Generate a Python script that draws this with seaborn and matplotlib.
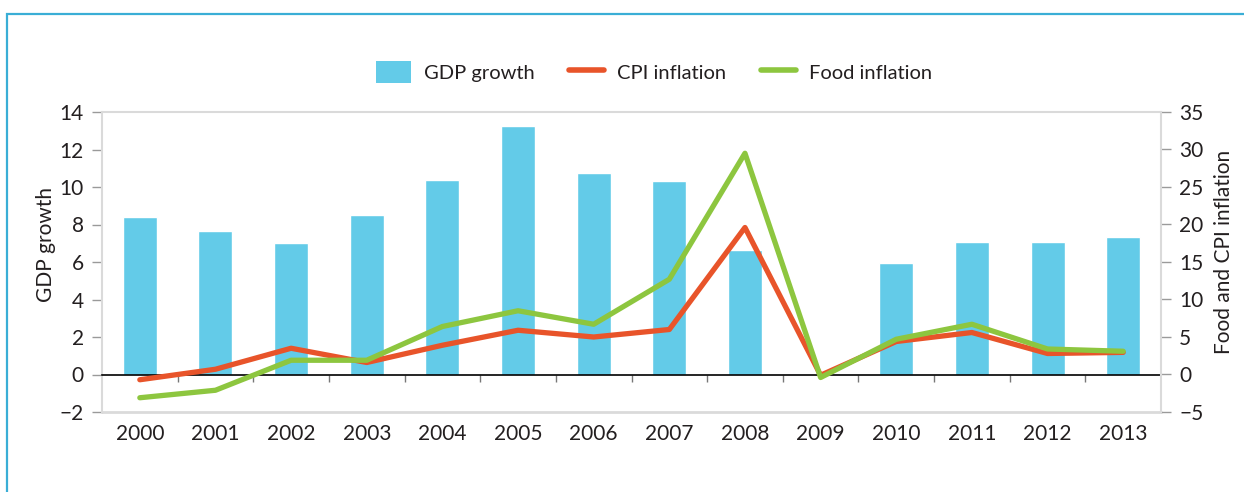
import numpy as np
import seaborn as sns
import matplotlib.pyplot as plt
from matplotlib.lines import Line2D
from matplotlib.patches import Patch, Rectangle

# data
years = ["2000", "2001", "2002", "2003", "2004", "2005", "2006",
         "2007", "2008", "2009", "2010", "2011", "2012", "2013"]
gdp_growth = [8.4, 7.65, 7.0, 8.5, 10.4, 13.25, 10.75, 10.3, 6.65, 0.0, 5.95, 7.07, 7.07, 7.33]
cpi_inflation = [-0.7, 0.7, 3.5, 1.6, 3.9, 5.9, 5.0, 6.0, 19.6, -0.1, 4.4, 5.6, 2.8, 2.95]
food_inflation = [-3.1, -2.1, 1.9, 1.9, 6.4, 8.5, 6.7, 12.7, 29.5, -0.4, 4.7, 6.7, 3.4, 3.1]

gdp_ticks = [-2, 0, 2, 4, 6, 8, 10, 12, 14]
infl_ticks = [-5, 0, 5, 10, 15, 20, 25, 30, 35]

BLUE = "#63cbe8"
RED = "#e8542a"
GREEN = "#8dc63f"
TXT = "#231f20"
GRID = "#dadada"

sns.set_style("white")
plt.rcParams["font.family"] = ["Lato", "DejaVu Sans"]
plt.rcParams["text.color"] = TXT
plt.rcParams["axes.labelcolor"] = TXT
plt.rcParams["xtick.color"] = TXT
plt.rcParams["ytick.color"] = TXT

fig = plt.figure(figsize=(12.44, 4.92), dpi=100)
ax = fig.add_axes([102 / 1244, 1 - 412 / 492, (1161 - 102) / 1244, 300 / 492])

# bars on the left axis
sns.barplot(x=years, y=gdp_growth, color=BLUE, saturation=1, width=0.45, ax=ax)
ax.set_ylim(-2, 14)
ax.set_xlim(-0.5, len(years) - 0.5)
ax.set_yticks(gdp_ticks)
ax.set_yticklabels(["\u22122" if t < 0 else str(t) for t in gdp_ticks], fontsize=15)
ax.set_ylabel("GDP growth", fontsize=15, labelpad=3)
ax.yaxis.label.set_y(0.56)

# lines on the right axis
ax2 = ax.twinx()
pos = np.arange(len(years))
sns.lineplot(x=pos, y=cpi_inflation, color=RED, lw=3.8, ax=ax2)
sns.lineplot(x=pos, y=food_inflation, color=GREEN, lw=3.8, ax=ax2)
ax2.set_ylim(-5, 35)
ax2.set_xlim(-0.5, len(years) - 0.5)
ax2.set_yticks(infl_ticks)
ax2.set_yticklabels(["\u22125" if t < 0 else str(t) for t in infl_ticks], fontsize=15)
ax2.set_ylabel("Food and CPI inflation", fontsize=15, labelpad=8)
ax2.yaxis.label.set_y(0.535)

# spines
for s in ["top", "left"]:
    ax.spines[s].set_color(GRID)
    ax.spines[s].set_linewidth(1.5)
ax.spines["right"].set_visible(False)
ax.spines["bottom"].set_position(("data", 0))
ax.spines["bottom"].set_color("black")
ax.spines["bottom"].set_linewidth(1.2)
for s in ["top", "left", "bottom"]:
    ax2.spines[s].set_visible(False)
ax2.spines["right"].set_color(GRID)
ax2.spines["right"].set_linewidth(1.5)
ax.axhline(-2, color=GRID, lw=2, clip_on=False, zorder=0)

# ticks
ax.tick_params(axis="y", length=7, width=1, color="#9a9a9a", pad=6, left=True)
ax2.tick_params(axis="y", length=7, width=1, color="#9a9a9a", pad=6, right=True)
ax.set_xticks(pos)
ax.set_xticklabels(years, fontsize=15)
ax.tick_params(axis="x", which="major", length=0, pad=36)
ax.set_xticks(pos[:-1] + 0.5, minor=True)
ax.tick_params(axis="x", which="minor", length=5, width=1, color="#777777", bottom=True)
ax.set_zorder(ax2.get_zorder() - 1)
ax2.patch.set_visible(False)

# legend
handles = [
    Patch(facecolor=BLUE, edgecolor="none"),
    Line2D([], [], color=RED, lw=4),
    Line2D([], [], color=GREEN, lw=4),
]
fig.legend(handles, ["GDP growth", "CPI inflation", "Food inflation"],
           loc="center", bbox_to_anchor=(654 / 1244, 1 - 72 / 492), ncol=3,
           frameon=False, fontsize=14.5, handlelength=1.75, handleheight=1.25,
           columnspacing=1.7, handletextpad=0.65)

# outer frame
fig.add_artist(Rectangle((7 / 1244, -0.1), 1.2, (492 - 14) / 492 + 0.1,
                         transform=fig.transFigure, fill=False,
                         edgecolor="#3aaed6", lw=1.6))

fig.savefig("out.png", dpi=100)
